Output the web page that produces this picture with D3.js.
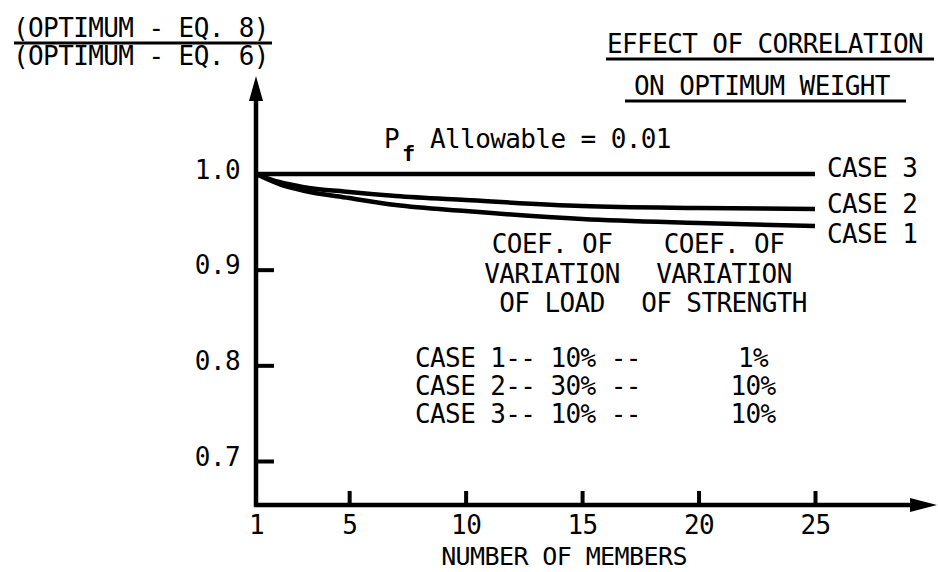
<!DOCTYPE html>
<html>
<head>
<meta charset="utf-8">
<script src="https://cdn.jsdelivr.net/npm/d3@7"></script>
<style>
  body { margin: 0; background: #fff; }
  text { font-family: "DejaVu Sans Mono", monospace; fill: #000; letter-spacing: -0.6px; }
</style>
</head>
<body>
<script>
// values
const members = [1, 2, 3, 5, 7, 10, 15, 20, 25];
const case1 = [1.0, 0.9895, 0.9828, 0.9749, 0.9676, 0.9613, 0.953, 0.9488, 0.9456];
const case2 = [1.0, 0.9916, 0.9864, 0.9812, 0.977, 0.9728, 0.9666, 0.9645, 0.9634];
const case3 = [1.0, 1.0, 1.0, 1.0, 1.0, 1.0, 1.0, 1.0, 1.0];
const caseNames = ["CASE 1", "CASE 2", "CASE 3"];
const xTicks = [1, 5, 10, 15, 20, 25];
const yTicks = [0.7, 0.8, 0.9, 1.0];
const tableRows = [
  ["CASE 1-- 10% --", "1%"],
  ["CASE 2-- 30% --", "10%"],
  ["CASE 3-- 10% --", "10%"]
];

const W = 938, H = 572;
const FS = 26;
const svg = d3.select("body").append("svg")
  .attr("width", W).attr("height", H);

const x = d3.scaleLinear().domain([1, 25]).range([256, 815]);
const y = d3.scaleLinear().domain([0.654, 1.0]).range([505, 174]);

// arrow heads
svg.append("path")
  .attr("d", "M256,76 L249,101 L263,101 Z").attr("fill", "#000");
svg.append("path")
  .attr("d", "M937,505 L910,498 L910,512 Z").attr("fill", "#000");

// axis lines
svg.append("line").attr("x1", 256).attr("x2", 256).attr("y1", 95).attr("y2", 507)
  .attr("stroke", "#000").attr("stroke-width", 4.5);
svg.append("line").attr("x1", 254).attr("x2", 915).attr("y1", 505).attr("y2", 505)
  .attr("stroke", "#000").attr("stroke-width", 4.5);

// x axis ticks point up into the plot
const xAxis = svg.append("g")
  .attr("transform", `translate(0,${y.range()[0]})`)
  .call(d3.axisBottom(x).tickValues(xTicks).tickSizeInner(-14).tickSizeOuter(0).tickPadding(11));
xAxis.select(".domain").remove();
xAxis.selectAll(".tick line").attr("stroke-width", 4);
xAxis.selectAll(".tick").filter(d => d === 1).select("line").remove();
xAxis.selectAll(".tick text").attr("font-size", FS).attr("font-family", null);

// y axis ticks point right
const yAxis = svg.append("g")
  .attr("transform", `translate(${x.range()[0]},0)`)
  .call(d3.axisLeft(y).tickValues(yTicks).tickFormat(d3.format(".1f"))
    .tickSizeInner(-18).tickSizeOuter(0).tickPadding(16));
yAxis.select(".domain").remove();
yAxis.selectAll(".tick line").attr("stroke-width", 4);
yAxis.selectAll(".tick").filter(d => d === 1).select("line").remove();
yAxis.selectAll(".tick text").attr("font-size", FS).attr("font-family", null).attr("dy", "0.16em");

svg.append("text").attr("x", 564).attr("y", 565).attr("text-anchor", "middle")
  .attr("font-size", 25).text("NUMBER OF MEMBERS");

// curves
const line = d3.line()
  .x((d, i) => x(members[i]))
  .y(d => y(d))
  .curve(d3.curveMonotoneX);

[case1, case2, case3].forEach(s => {
  svg.append("path").datum(s)
    .attr("d", line)
    .attr("fill", "none")
    .attr("stroke", "#000")
    .attr("stroke-width", 4.5);
});

// curve labels
const labelY = [243, 213, 177];
caseNames.forEach((n, i) => {
  svg.append("text").attr("x", 827).attr("y", labelY[i])
    .attr("font-size", FS).text(n);
});

// y label as a fraction
svg.append("text").attr("x", 13).attr("y", 37).attr("font-size", FS).text("(OPTIMUM - EQ. 8)");
svg.append("line").attr("x1", 14).attr("x2", 272).attr("y1", 43).attr("y2", 43)
  .attr("stroke", "#000").attr("stroke-width", 3);
svg.append("text").attr("x", 13).attr("y", 65).attr("font-size", FS).text("(OPTIMUM - EQ. 6)");

// title
svg.append("text").attr("x", 607).attr("y", 53).attr("font-size", FS).text("EFFECT OF CORRELATION");
svg.append("line").attr("x1", 606).attr("x2", 934).attr("y1", 59).attr("y2", 59)
  .attr("stroke", "#000").attr("stroke-width", 3);
svg.append("text").attr("x", 634).attr("y", 95).attr("font-size", FS).text("ON OPTIMUM WEIGHT");
svg.append("line").attr("x1", 625).attr("x2", 906).attr("y1", 101).attr("y2", 101)
  .attr("stroke", "#000").attr("stroke-width", 3);

// Pf allowable
svg.append("text").attr("x", 384).attr("y", 148).attr("font-size", FS).text("P");
svg.append("text").attr("x", 402).attr("y", 161).attr("font-size", 22)
  .attr("font-weight", "bold").text("f");
svg.append("text").attr("x", 430).attr("y", 148).attr("font-size", FS).text("Allowable = 0.01");

// coefficient table
const head = [["COEF. OF", "VARIATION", "OF LOAD"], ["COEF. OF", "VARIATION", "OF STRENGTH"]];
const headX = [552, 724];
const headY = [253, 283, 312];
head.forEach((col, c) => {
  col.forEach((t, r) => {
    svg.append("text").attr("x", headX[c]).attr("y", headY[r])
      .attr("text-anchor", "middle").attr("font-size", FS).text(t);
  });
});
tableRows.forEach((row, i) => {
  svg.append("text").attr("x", 415).attr("y", 367 + i * 28)
    .attr("font-size", FS).attr("xml:space", "preserve").text(row[0]);
  svg.append("text").attr("x", 753).attr("y", 367 + i * 28)
    .attr("text-anchor", "middle").attr("font-size", FS).text(row[1]);
});
</script>
</body>
</html>
